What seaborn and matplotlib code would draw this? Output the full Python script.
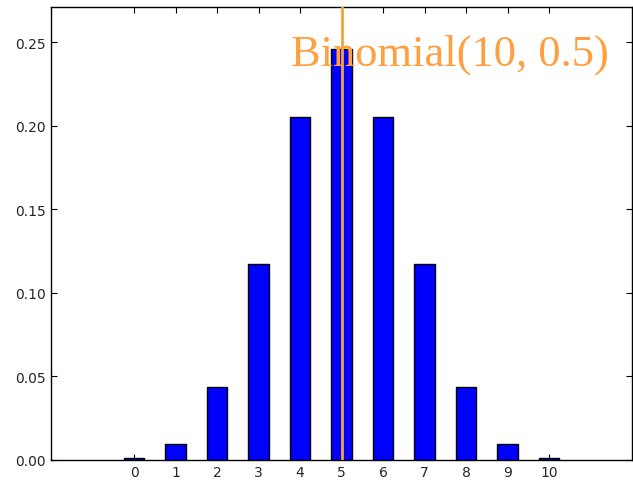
import matplotlib
matplotlib.use("Agg")
import matplotlib.pyplot as plt
import seaborn as sns

#  Binomial(10, 0.5) probabilities
k = [0, 1, 2, 3, 4, 5, 6, 7, 8, 9, 10]
pmf = [0.00098, 0.00977, 0.04395, 0.11719, 0.20508, 0.24609,
       0.20508, 0.11719, 0.04395, 0.00977, 0.00098]
mean_k = 5
label = "Binomial(10, 0.5)"

sns.set_style("ticks")
plt.rcParams["xtick.direction"] = "in"
plt.rcParams["ytick.direction"] = "in"

fig = plt.figure(figsize=(6.33, 4.81), dpi=100)
ax = fig.add_axes([0.0806, 0.0416, 0.918, 0.9418])

sns.barplot(x=k, y=pmf, native_scale=True, width=0.5, color="blue",
            saturation=1, edgecolor="black", linewidth=1, ax=ax)

ax.axvline(mean_k, color="#f7a23c", linewidth=2, zorder=3)
ax.text(3.78, 0.2365, label, family="Liberation Serif", fontsize=32,
        color="#ffa040", zorder=4)

ax.set_xlim(-2, 12)
ax.set_ylim(0, 0.271)
ax.set_xticks(k)
ax.set_yticks([0.0, 0.05, 0.10, 0.15, 0.20, 0.25])
ax.set_yticklabels(["0.00", "0.05", "0.10", "0.15", "0.20", "0.25"])
ax.tick_params(top=True, right=True, labelsize=10, length=4, color="black")
for s in ax.spines.values():
    s.set_visible(True)
    s.set_color("black")
    s.set_linewidth(1)

fig.savefig("out.png", dpi=100)
